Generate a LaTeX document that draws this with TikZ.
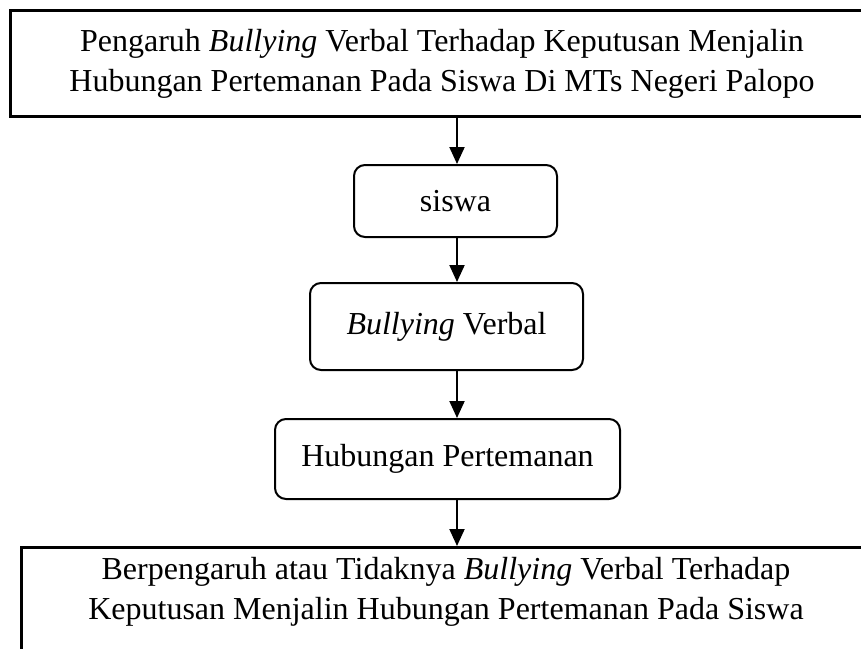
\documentclass[tikz,border=0pt]{standalone}
\usepackage{fontspec}
\setmainfont{Liberation Serif}
\usetikzlibrary{arrows.meta}
\begin{document}
\begin{tikzpicture}[x=1pt,y=-1pt,
  bigbox/.style={draw, line width=3pt, rectangle, inner sep=0pt},
  roundbox/.style={draw, line width=2pt, rectangle, rounded corners=11pt, inner sep=0pt},
  lbl/.style={align=center, font=\fontsize{32}{40}\selectfont},
  arr/.style={line width=2pt, -{Triangle[width=15pt,length=17pt]}}]
\useasboundingbox (0,0) rectangle (861,648);
\clip (0,0) rectangle (861,648);
\fill[white] (0,0) rectangle (861,648);
\coordinate (ax) at (457,0);
\node[bigbox, lbl, minimum width=863pt, minimum height=106pt] (top) at (442,63.5)
  {Pengaruh \textit{Bullying} Verbal Terhadap Keputusan Menjalin\\Hubungan Pertemanan Pada Siswa Di MTs Negeri Palopo};
\node[roundbox, lbl, minimum width=203pt, minimum height=72pt] (siswa) at (455.5,201) {siswa};
\node[roundbox, lbl, minimum width=273pt, minimum height=87pt] (bully) at (446.5,326.5) {\textit{Bullying} Verbal};
\node[roundbox, lbl, minimum width=345pt, minimum height=80pt] (hub) at (447.5,459) {Hubungan Pertemanan};
\node[bigbox, minimum width=850pt, minimum height=160pt, anchor=north] (bot) at (446,546) {};
\node[lbl] (bottext) at (446,592)
  {Berpengaruh atau Tidaknya \textit{Bullying} Verbal Terhadap\\Keputusan Menjalin Hubungan Pertemanan Pada Siswa};
\draw[arr] (top.south -| ax) -- (siswa.north -| ax);
\draw[arr] (siswa.south -| ax) -- (bully.north -| ax);
\draw[arr] (bully.south -| ax) -- (hub.north -| ax);
\draw[arr] (hub.south -| ax) -- (bot.north -| ax);
\end{tikzpicture}
\end{document}
